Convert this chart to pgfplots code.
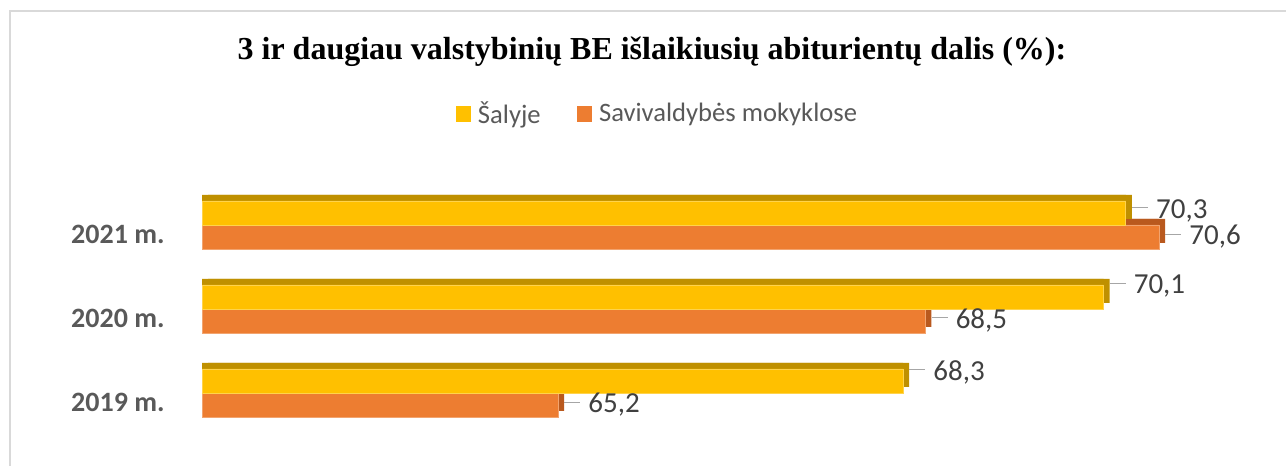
\documentclass[border=0pt]{standalone}
\usepackage{fontspec}
\setmainfont{Liberation Serif}
\newfontfamily\carlito{Carlito}
\usepackage{pgfplots}
\usepackage{pgfplotstable}
\pgfplotsset{compat=1.18}
\definecolor{cyel}{HTML}{FFC000}
\definecolor{cora}{HTML}{ED7D31}
\definecolor{cyeld}{HTML}{BF9000}
\definecolor{corad}{HTML}{B9591E}
\definecolor{labtxt}{HTML}{404040}
\definecolor{leggray}{HTML}{595959}
\definecolor{leader}{HTML}{A6A6A6}
\definecolor{framegray}{HTML}{D9D9D9}
% dy: vertical offset of the value label (pt), bar shift included
\pgfplotstableread{
y x dy
0 68.3 10.5
1 70.1 11.5
2 70.3 7.25
}\salyje
\pgfplotstableread{
y x dy
0 65.2 -6
1 68.5 -5.5
2 70.6 -6
}\savi
\begin{document}
\begin{tikzpicture}
\path[use as bounding box, clip] (0,0) rectangle (643pt,233pt);
\draw[framegray, line width=1pt] (4.75pt,-20pt) rectangle (700pt,227.5pt);
\begin{axis}[
  at={(101pt,15.5pt)}, anchor=south west,
  scale only axis, width=556.5pt, height=126pt,
  xmin=62, xmax=72, ymin=-0.5, ymax=2.5,
  axis lines=left, axis line style={draw=none},
  xtick=\empty, ytick={0,1,2},
  yticklabels={2019 m.,2020 m.,2021 m.},
  major tick length=0pt,
  point meta=x,
  yticklabel style={font=\carlito\bfseries\fontsize{14}{16}\selectfont, text=leggray, anchor=east, inner sep=0pt, xshift=-18.5pt, yshift=-4.5pt},
  title={3 ir daugiau valstybinių BE išlaikiusių abiturientų dalis (\%):},
  title style={font=\bfseries\fontsize{16}{19}\selectfont, at={(axis description cs:0.4043,1.4722)}, anchor=center},
  legend style={at={(axis description cs:0.4100,1.2738)}, anchor=center, draw=none, fill=none,
    font=\carlito\fontsize{13.3}{16}\selectfont, text=leggray, legend columns=2,
    /tikz/every even column/.append style={column sep=16pt}},
  legend image code/.code={\path[#1, draw=none] (0pt,-3.8pt) rectangle (7.6pt,3.8pt); \path (9pt,0pt);},
  nodes near coords={{\color{leader}\rule[0.33em]{8pt}{0.7pt}}\hspace{4pt}\pgfmathprintnumber[fixed,precision=1,fixed zerofill,use comma,assume math mode=true]{\pgfplotspointmeta}},
  nodes near coords style={font=\carlito\fontsize{14.5}{16}\selectfont, text=labtxt, anchor=west, inner sep=0pt, xshift=3pt},
]
\addlegendimage{fill=cyel}
\addlegendentry{Šalyje}
\addlegendimage{fill=cora}
\addlegendentry{Savivaldybės mokyklose}
% orange depth (top and side faces)
\addplot[xbar, bar width=12pt, bar shift=-6pt, fill=corad, draw=none, yshift=3pt, forget plot, nodes near coords=\empty]
  table[x=x,y=y]{\savi};
\addplot[xbar, bar width=12pt, bar shift=-6pt, fill=corad, draw=none, xshift=3pt, yshift=3pt, forget plot, nodes near coords=\empty]
  table[x=x,y=y]{\savi};
% orange front
\addplot[xbar, bar width=12pt, bar shift=-6pt, fill=cora, draw=cora!70!white, line width=0.3pt, forget plot,
  visualization depends on={\thisrow{dy} \as \dy},
  every node near coord/.append style={yshift=\dy pt}]
  table[x=x,y=y]{\savi};
% yellow depth (top and side faces)
\addplot[xbar, bar width=12pt, bar shift=6pt, fill=cyeld, draw=none, yshift=3pt, forget plot, nodes near coords=\empty]
  table[x=x,y=y]{\salyje};
\addplot[xbar, bar width=12pt, bar shift=6pt, fill=cyeld, draw=none, xshift=3pt, yshift=3pt, forget plot, nodes near coords=\empty]
  table[x=x,y=y]{\salyje};
% yellow front
\addplot[xbar, bar width=12pt, bar shift=6pt, fill=cyel, draw=cyel!70!white, line width=0.3pt, forget plot,
  visualization depends on={\thisrow{dy} \as \dy},
  every node near coord/.append style={yshift=\dy pt}]
  table[x=x,y=y]{\salyje};
\end{axis}
\end{tikzpicture}
\end{document}
